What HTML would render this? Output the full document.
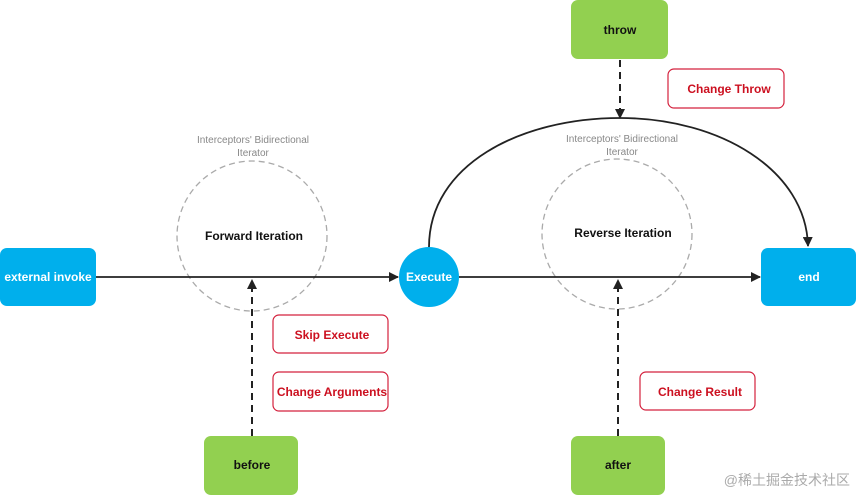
<!DOCTYPE html>
<html><head><meta charset="utf-8"><style>
html,body{margin:0;padding:0;background:#fff;width:856px;height:496px;overflow:hidden}
svg{display:block}
text{font-family:"Liberation Sans","Noto Sans CJK SC",sans-serif}
</style></head><body>
<svg width="856" height="496" viewBox="0 0 856 496">
<defs>
<marker id="a" markerWidth="10" markerHeight="10" refX="9" refY="5" orient="auto" markerUnits="userSpaceOnUse"><path d="M0,0 L10,5 L0,10 z" fill="#222"/></marker>
</defs>
<circle cx="252" cy="236" r="75" fill="none" stroke="#aaa" stroke-width="1.3" stroke-dasharray="6,4"/>
<circle cx="617" cy="234" r="75" fill="none" stroke="#aaa" stroke-width="1.3" stroke-dasharray="6,4"/>
<text x="253" y="143" font-size="10" fill="#888" text-anchor="middle">Interceptors' Bidirectional</text>
<text x="253" y="156" font-size="10" fill="#888" text-anchor="middle">Iterator</text>
<text x="622" y="142" font-size="10" fill="#888" text-anchor="middle">Interceptors' Bidirectional</text>
<text x="622" y="155" font-size="10" fill="#888" text-anchor="middle">Iterator</text>
<text x="254" y="240" font-size="12" font-weight="bold" fill="#111" text-anchor="middle">Forward Iteration</text>
<text x="623" y="237" font-size="12" font-weight="bold" fill="#111" text-anchor="middle">Reverse Iteration</text>
<line x1="96" y1="277" x2="398" y2="277" stroke="#222" stroke-width="1.8" marker-end="url(#a)"/>
<line x1="459" y1="277" x2="760" y2="277" stroke="#222" stroke-width="1.8" marker-end="url(#a)"/>
<path d="M429,247 C429,165 520,118 620,118 C720,118 806,170 808,246" fill="none" stroke="#222" stroke-width="1.8" marker-end="url(#a)"/>
<line x1="252" y1="436" x2="252" y2="280" stroke="#222" stroke-width="2" stroke-dasharray="7,5" marker-end="url(#a)"/>
<line x1="618" y1="436" x2="618" y2="280" stroke="#222" stroke-width="2" stroke-dasharray="7,5" marker-end="url(#a)"/>
<line x1="620" y1="60" x2="620" y2="118" stroke="#222" stroke-width="2" stroke-dasharray="7,5" marker-end="url(#a)"/>
<rect x="0" y="248" width="96" height="58" rx="7" fill="#00afec"/>
<text x="48" y="281" font-size="12" font-weight="bold" fill="#fff" text-anchor="middle">external invoke</text>
<circle cx="429" cy="277" r="30" fill="#00afec"/>
<text x="429" y="281" font-size="12" font-weight="bold" fill="#fff" text-anchor="middle">Execute</text>
<rect x="761" y="248" width="95" height="58" rx="7" fill="#00afec"/>
<text x="809" y="281" font-size="12" font-weight="bold" fill="#fff" text-anchor="middle">end</text>
<rect x="571" y="0" width="97" height="59" rx="7" fill="#92d050"/>
<text x="620" y="34" font-size="12" font-weight="bold" fill="#111" text-anchor="middle">throw</text>
<rect x="204" y="436" width="94" height="59" rx="7" fill="#92d050"/>
<text x="252" y="469" font-size="12" font-weight="bold" fill="#111" text-anchor="middle">before</text>
<rect x="571" y="436" width="94" height="59" rx="7" fill="#92d050"/>
<text x="618" y="469" font-size="12" font-weight="bold" fill="#111" text-anchor="middle">after</text>
<g fill="#fff" stroke="#d4213d" stroke-width="1.2">
<rect x="668" y="69" width="116" height="39" rx="6"/>
<rect x="273" y="315" width="115" height="38" rx="6"/>
<rect x="273" y="372" width="115" height="39" rx="6"/>
<rect x="640" y="372" width="115" height="38" rx="6"/>
</g>
<g font-size="12" font-weight="bold" fill="#cc1020" text-anchor="middle">
<text x="729" y="93">Change Throw</text>
<text x="332" y="339">Skip Execute</text>
<text x="332" y="396">Change Arguments</text>
<text x="700" y="396">Change Result</text>
</g>
<text x="850" y="485" font-size="14" fill="#aaa" text-anchor="end">@稀土掘金技术社区</text>
</svg>
</body></html>
